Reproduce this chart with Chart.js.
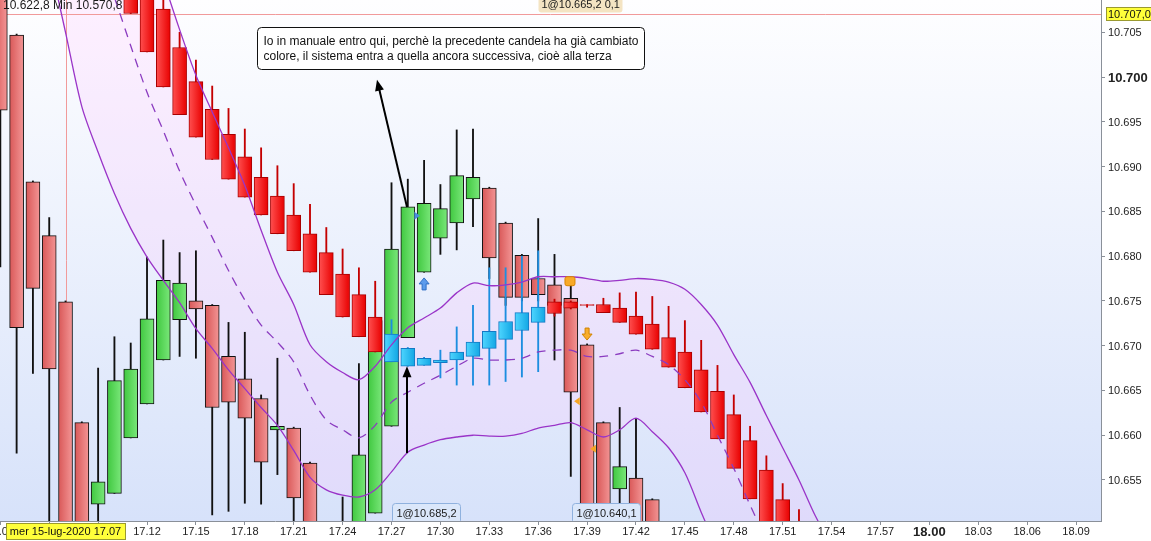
<!DOCTYPE html>
<html>
<head>
<meta charset="utf-8">
<script src="https://cdn.jsdelivr.net/npm/chart.js@4.4.0/dist/chart.umd.min.js"></script>
<style>
    body { margin: 0; background: #fff; }
    canvas { display: block; }
</style>
</head>
<body>
<canvas id="chart" width="1151" height="541"></canvas>
<script>
    // minute after 17:00 of the first bar of each series (1-minute bars)
    const PRICE_START = 3;
    const OVER_START = 11;
    const BAND_START = 3;

    // price candles 17.03 .. 17.43
    const priceOpen = [10.7130, 10.7047, 10.6883, 10.6823, 10.6749, 10.6614, 10.6523, 10.6535, 10.6597, 10.6635,
        10.6684, 10.6729, 10.6750, 10.6745, 10.6688, 10.6663, 10.6641, 10.6606, 10.6608, 10.6569,
        10.6490, 10.6470, 10.6480, 10.6513, 10.6610, 10.6709, 10.6782, 10.6820, 10.6837, 10.6864,
        10.6876, 10.6837, 10.6801, 10.6775, 10.6768, 10.6753, 10.6701, 10.6614, 10.6540, 10.6552, 10.6528];
    const priceHigh = [10.7150, 10.7048, 10.6884, 10.6843, 10.6750, 10.6615, 10.6675, 10.6710, 10.6703, 10.6799,
        10.6818, 10.6804, 10.6806, 10.6746, 10.6726, 10.6715, 10.6645, 10.6686, 10.6609, 10.6570,
        10.6495, 10.6531, 10.6680, 10.6730, 10.6882, 10.6886, 10.6907, 10.6880, 10.6941, 10.6942,
        10.6877, 10.6838, 10.6802, 10.6842, 10.6802, 10.6767, 10.6702, 10.6615, 10.6631, 10.6619, 10.6529];
    const priceLow = [10.6788, 10.6580, 10.6669, 10.6480, 10.6470, 10.6460, 10.6460, 10.6535, 10.6597, 10.6635,
        10.6684, 10.6688, 10.6686, 10.6511, 10.6515, 10.6524, 10.6523, 10.6556, 10.6470, 10.6460,
        10.6440, 10.6440, 10.6470, 10.6513, 10.6610, 10.6709, 10.6782, 10.6802, 10.6807, 10.6833,
        10.6775, 10.6745, 10.6750, 10.6750, 10.6684, 10.6554, 10.6460, 10.6450, 10.6470, 10.6440, 10.6430];
    const priceClose = [10.6963, 10.6720, 10.6764, 10.6674, 10.6480, 10.6470, 10.6548, 10.6661, 10.6674, 10.6730,
        10.6773, 10.6770, 10.6741, 10.6631, 10.6637, 10.6619, 10.6570, 10.6610, 10.6530, 10.6480,
        10.6460, 10.6480, 10.6578, 10.6728, 10.6808, 10.6855, 10.6859, 10.6853, 10.6890, 10.6888,
        10.6798, 10.6754, 10.6754, 10.6757, 10.6745, 10.6648, 10.6480, 10.6470, 10.6565, 10.6460, 10.6450];

    // coloured trend candles 17.11 .. 17.52
    const overOpen = [10.7140, 10.7110, 10.7076, 10.7033, 10.6995, 10.6964, 10.6936, 10.6911, 10.6888, 10.6867,
        10.6846, 10.6825, 10.6804, 10.6780, 10.6757, 10.6732, 10.6682, 10.6677, 10.6678, 10.6681,
        10.6684, 10.6688, 10.6697, 10.6707, 10.6717, 10.6726, 10.6749, 10.6749, 10.6746, 10.6746,
        10.6742, 10.6733, 10.6724, 10.6709, 10.6693, 10.6673, 10.6649, 10.6623, 10.6594, 10.6561, 10.6528, 10.6500];
    const overHigh = [10.7160, 10.7130, 10.7095, 10.7050, 10.7019, 10.6990, 10.6965, 10.6942, 10.6921, 10.6901,
        10.6881, 10.6858, 10.6832, 10.6808, 10.6787, 10.6772, 10.6729, 10.6698, 10.6687, 10.6695,
        10.6721, 10.6745, 10.6787, 10.6787, 10.6800, 10.6806, 10.6752, 10.6750, 10.6746, 10.6753,
        10.6759, 10.6760, 10.6755, 10.6744, 10.6728, 10.6706, 10.6678, 10.6645, 10.6610, 10.6577, 10.6546, 10.6517];
    const overLow = [10.7071, 10.7028, 10.6989, 10.6958, 10.6933, 10.6908, 10.6886, 10.6866, 10.6846, 10.6825,
        10.6806, 10.6782, 10.6757, 10.6732, 10.6710, 10.6693, 10.6682, 10.6677, 10.6678, 10.6664,
        10.6656, 10.6656, 10.6656, 10.6660, 10.6665, 10.6671, 10.6733, 10.6741, 10.6743, 10.6737,
        10.6726, 10.6713, 10.6696, 10.6676, 10.6653, 10.6626, 10.6596, 10.6563, 10.6529, 10.6480, 10.6460, 10.6440];
    const overClose = [10.7071, 10.7028, 10.6989, 10.6958, 10.6933, 10.6908, 10.6886, 10.6866, 10.6846, 10.6825,
        10.6806, 10.6782, 10.6757, 10.6732, 10.6710, 10.6693, 10.6713, 10.6697, 10.6686, 10.6684,
        10.6693, 10.6704, 10.6716, 10.6727, 10.6737, 10.6743, 10.6736, 10.6742, 10.6745, 10.6737,
        10.6726, 10.6713, 10.6696, 10.6676, 10.6653, 10.6626, 10.6596, 10.6563, 10.6529, 10.6480, 10.6460, 10.6440];

    // bands 17.03 .. 17.54
    const bandUpper = [10.773, 10.768, 10.763, 10.757, 10.751, 10.744, 10.737, 10.7298, 10.7231, 10.7164,
        10.7108, 10.7053, 10.7002, 10.6961, 10.6921, 10.6879, 10.6829, 10.6782, 10.6746, 10.6701,
        10.6682, 10.6670, 10.6662, 10.6677, 10.6701, 10.6720, 10.6731, 10.6742, 10.6759, 10.6770,
        10.6767, 10.6768, 10.6771, 10.6777, 10.6777, 10.6777, 10.6775, 10.6772, 10.6773, 10.6775,
        10.6774, 10.6771, 10.6763, 10.6746, 10.6723, 10.6690, 10.6659, 10.6622, 10.6586, 10.6550, 10.6510, 10.6477];
    const bandMiddle = [10.746, 10.741, 10.736, 10.730, 10.7248, 10.7192, 10.7139, 10.7089, 10.7035, 10.6983,
        10.6940, 10.6895, 10.6857, 10.6821, 10.6784, 10.6751, 10.6723, 10.6704, 10.6682, 10.6645,
        10.6617, 10.6606, 10.6597, 10.6611, 10.6637, 10.6648, 10.6658, 10.6667, 10.6677, 10.6686,
        10.6684, 10.6684, 10.6686, 10.6693, 10.6695, 10.6695, 10.6688, 10.6688, 10.6691, 10.6695,
        10.6688, 10.6679, 10.6662, 10.6637, 10.6600, 10.6563, 10.6522, 10.6483, 10.6445, 10.641, 10.638, 10.635];
    const bandLower = [10.7416, 10.7321, 10.7226, 10.7133, 10.7050, 10.6967, 10.6916, 10.6870, 10.6831, 10.6799,
        10.6773, 10.6748, 10.6719, 10.6697, 10.6673, 10.6652, 10.6631, 10.6611, 10.6583, 10.6553,
        10.6539, 10.6533, 10.6531, 10.6539, 10.6559, 10.6581, 10.6589, 10.6595, 10.6598, 10.6600,
        10.6599, 10.6599, 10.6602, 10.6608, 10.6611, 10.6614, 10.6606, 10.6598, 10.6606, 10.6619,
        10.6604, 10.6586, 10.6558, 10.6514, 10.6472, 10.643, 10.639, 10.635, 10.632, 10.629, 10.627, 10.625];

    // cursor, notes and signals (minute, price)
    const crossMinute = 7;
    const crossPrice = 10.707;
    const noteAnchor = [18.74, 10.7056];
    const noteLines = [
        'Io in manuale entro qui, perchè la precedente candela ha già cambiato',
        'colore, il sistema entra a quella ancora successiva, cioè alla terza'
    ];
    const noteArrows = [[27.95, 10.6855, 26.11, 10.6997], [27.95, 10.6580, 27.95, 10.6677]];
    const buyArrows = [[29, 10.6769]];
    const sellArrows = [[39, 10.6713]];
    const entryMarks = [[28.5, 10.6845]];
    const exitMarks = [[38.45, 10.6638], [39.44, 10.6585]];
    const stopMarks = [[37.95, 10.6772]];
    const bottomTags = [['1@10.685,2', 27.05], ['1@10.640,1', 38.05]];
    const topTags = [['1@10.665,2 0,1', 36.0]];
    const headerText = '10.622,8 Min 10.570,8';
    const cursorDate = 'mer 15-lug-2020 17.07';
    const cursorPriceText = '10.707,0';

    const FONT = '"Liberation Sans", Arial, sans-serif';
    const SALMON = ['#d95858', '#f39595'];
    const GREEN = ['#40c840', '#7ae77a'];
    const RED = ['#ff5050', '#e80000'];
    const CYAN = ['#4fd6ff', '#12a6e4'];

    const fmtMinute = m => (17 + Math.floor(m / 60)) + '.' + String(m % 60).padStart(2, '0');

    function hGrad(chart, minute, cols) {
        const xs = chart.scales.x;
        const p = xs ? xs.getPixelForValue(minute) : NaN;
        if (!isFinite(p)) return cols[1];
        const g = chart.ctx.createLinearGradient(p - 7, 0, p + 7, 0);
        g.addColorStop(0, cols[0]);
        g.addColorStop(1, cols[1]);
        return g;
    }

    const bodies = (start, o, c) => o.map((v, i) => ({x: start + i, y: [v, c[i]]}));
    const wicks = (start, l, h) => l.map((v, i) => ({x: start + i, y: [v, h[i]]}));
    const band = arr => arr.map((v, i) => ({x: BAND_START + i, y: v}));

    function drawArrow(ctx, x1, y1, x2, y2) {
        const a = Math.atan2(y2 - y1, x2 - x1);
        const len = 11, w = 4.5;
        ctx.lineWidth = 2;
        ctx.beginPath();
        ctx.moveTo(x1, y1);
        ctx.lineTo(x2 - Math.cos(a) * len * 0.7, y2 - Math.sin(a) * len * 0.7);
        ctx.stroke();
        ctx.beginPath();
        ctx.moveTo(x2, y2);
        ctx.lineTo(x2 - len * Math.cos(a) + w * Math.sin(a), y2 - len * Math.sin(a) - w * Math.cos(a));
        ctx.lineTo(x2 - len * Math.cos(a) - w * Math.sin(a), y2 - len * Math.sin(a) + w * Math.cos(a));
        ctx.closePath();
        ctx.fill();
    }

    function blockArrow(ctx, x, y, dir, fill, stroke) {
        // dir -1 points up, 1 points down; y is the centre
        const tip = y + dir * 6, base = y - dir * 6, neck = tip - dir * 6;
        ctx.beginPath();
        ctx.moveTo(x, tip);
        ctx.lineTo(x + 5, neck);
        ctx.lineTo(x + 2, neck);
        ctx.lineTo(x + 2, base);
        ctx.lineTo(x - 2, base);
        ctx.lineTo(x - 2, neck);
        ctx.lineTo(x - 5, neck);
        ctx.closePath();
        ctx.fillStyle = fill;
        ctx.fill();
        ctx.strokeStyle = stroke;
        ctx.lineWidth = 1;
        ctx.stroke();
    }

    function tri(ctx, x, y, dir, size, fill) {
        ctx.beginPath();
        ctx.moveTo(x + dir * size, y);
        ctx.lineTo(x - dir * size * 0.4, y - size);
        ctx.lineTo(x - dir * size * 0.4, y + size);
        ctx.closePath();
        ctx.fillStyle = fill;
        ctx.fill();
    }

    function tag(ctx, left, top, h, text, bg, border, pad) {
        const w = ctx.measureText(text).width + pad * 2;
        ctx.beginPath();
        ctx.roundRect(Math.round(left) + 0.5, top + 0.5, Math.round(w), h, 3);
        ctx.fillStyle = bg;
        ctx.fill();
        if (border) {
            ctx.strokeStyle = border;
            ctx.lineWidth = 1;
            ctx.stroke();
        }
        ctx.fillStyle = '#1a1a1a';
        ctx.textAlign = 'left';
        ctx.textBaseline = 'middle';
        ctx.fillText(text, Math.round(left) + pad + 0.5, top + h / 2 + 1);
    }

    const decor = {
        id: 'decor',
        beforeDraw(chart) {
            const {ctx, chartArea: a} = chart;
            ctx.save();
            ctx.fillStyle = '#fff';
            ctx.fillRect(0, 0, chart.width, chart.height);
            const g = ctx.createLinearGradient(0, a.top, 0, a.bottom);
            g.addColorStop(0, '#fefeff');
            g.addColorStop(1, '#d7e2fa');
            ctx.fillStyle = g;
            ctx.fillRect(a.left, a.top, a.right - a.left, a.bottom - a.top);
            ctx.restore();
        },
        beforeDatasetsDraw(chart) {
            const {ctx, chartArea: a, scales: {x, y}} = chart;
            const cx = Math.round(x.getPixelForValue(crossMinute)) + 0.5;
            const cy = Math.round(y.getPixelForValue(crossPrice)) + 0.5;
            ctx.save();
            ctx.strokeStyle = '#f19a9a';
            ctx.lineWidth = 1;
            ctx.beginPath();
            ctx.moveTo(a.left, cy);
            ctx.lineTo(a.right, cy);
            ctx.moveTo(cx, a.top);
            ctx.lineTo(cx, a.bottom);
            ctx.stroke();
            ctx.restore();
        },
        afterDatasetsDraw(chart) {
            const {ctx, chartArea: a, scales: {x, y}} = chart;
            const X = v => x.getPixelForValue(v);
            const Y = v => y.getPixelForValue(v);
            ctx.save();
            ctx.beginPath();
            ctx.rect(a.left, a.top, a.right - a.left, a.bottom - a.top);
            ctx.clip();

            stopMarks.forEach(([m, p]) => {
                ctx.beginPath();
                ctx.roundRect(X(m) - 5, Y(p) - 4.5, 10, 9, 2);
                ctx.fillStyle = '#f8a928';
                ctx.fill();
                ctx.strokeStyle = '#d98400';
                ctx.stroke();
            });
            exitMarks.forEach(([m, p]) => tri(ctx, X(m), Y(p), -1, 4, '#f5a623'));
            entryMarks.forEach(([m, p]) => tri(ctx, X(m), Y(p), 1, 4, '#4a8fe0'));
            buyArrows.forEach(([m, p]) => blockArrow(ctx, X(m), Y(p), -1, '#5d9cec', '#2f6fc4'));
            sellArrows.forEach(([m, p]) => blockArrow(ctx, X(m), Y(p), 1, '#f9ad2c', '#cf8200'));

            ctx.strokeStyle = '#000';
            ctx.fillStyle = '#000';
            noteArrows.forEach(([m1, p1, m2, p2]) => drawArrow(ctx, X(m1), Y(p1), X(m2), Y(p2)));

            // note box
            ctx.font = '12px ' + FONT;
            const nx = Math.round(X(noteAnchor[0])) + 0.5;
            const ny = Math.round(Y(noteAnchor[1])) + 0.5;
            const nw = Math.max(...noteLines.map(t => ctx.measureText(t).width)) + 12;
            ctx.beginPath();
            ctx.roundRect(nx, ny, Math.round(nw), 42, 4);
            ctx.fillStyle = '#fff';
            ctx.fill();
            ctx.strokeStyle = '#111';
            ctx.lineWidth = 1;
            ctx.stroke();
            ctx.fillStyle = '#111';
            ctx.textAlign = 'left';
            ctx.textBaseline = 'middle';
            noteLines.forEach((t, i) => ctx.fillText(t, nx + 6, ny + 14 + i * 15));

            // trade tags
            ctx.font = '11px ' + FONT;
            bottomTags.forEach(([t, m]) => tag(ctx, X(m), a.bottom - 18, 20, t, '#dbe7fa', '#8fb1de', 4));
            topTags.forEach(([t, m]) => tag(ctx, X(m), a.top - 4, 16, t, '#f4e4c3', null, 3));

            ctx.font = '12px ' + FONT;
            ctx.fillStyle = '#1a1a1a';
            ctx.textAlign = 'left';
            ctx.textBaseline = 'middle';
            ctx.fillText(headerText, a.left + 3, a.top + 6);
            ctx.restore();
        },
        afterDraw(chart) {
            const {ctx, chartArea: a, scales: {x, y}} = chart;
            ctx.save();
            ctx.fillStyle = '#222';
            ctx.textBaseline = 'middle';
            ctx.textAlign = 'center';
            x.ticks.forEach(t => {
                const bold = t.value === 60;
                ctx.font = (bold ? 'bold 13px ' : '11px ') + FONT;
                ctx.fillText(fmtMinute(t.value), x.getPixelForValue(t.value), a.bottom + 11);
            });
            ctx.textAlign = 'left';
            y.ticks.forEach(t => {
                const bold = Math.abs(t.value - 10.7) < 1e-6;
                ctx.font = (bold ? 'bold 13px ' : '11px ') + FONT;
                ctx.fillText(t.value.toFixed(3), a.right + 7, y.getPixelForValue(t.value) + 1);
            });

            // cursor labels
            ctx.font = '11px ' + FONT;
            const cx = x.getPixelForValue(crossMinute);
            const dw = ctx.measureText(cursorDate).width + 8;
            ctx.fillStyle = '#ffff3a';
            ctx.strokeStyle = '#9a9a30';
            ctx.lineWidth = 1;
            ctx.fillRect(Math.round(cx - dw / 2), a.bottom + 2, Math.round(dw), 17);
            ctx.strokeRect(Math.round(cx - dw / 2) + 0.5, a.bottom + 2.5, Math.round(dw), 16);
            ctx.fillStyle = '#111';
            ctx.textAlign = 'center';
            ctx.fillText(cursorDate, cx, a.bottom + 11);

            const cy = Math.round(y.getPixelForValue(crossPrice));
            ctx.fillStyle = '#ffff3a';
            ctx.fillRect(a.right + 5, cy - 7, chart.width - a.right - 5, 14);
            ctx.strokeRect(a.right + 5.5, cy - 6.5, chart.width - a.right - 5, 13);
            ctx.fillStyle = '#111';
            ctx.textAlign = 'left';
            ctx.fillText(cursorPriceText, a.right + 7, cy + 1);
            ctx.restore();
        }
    };

    const priceColor = c => {
        if (c.type !== 'data') return SALMON[1];
        const i = c.dataIndex;
        return hGrad(c.chart, PRICE_START + i, priceClose[i] > priceOpen[i] ? GREEN : SALMON);
    };
    const overUp = i => overClose[i] > overOpen[i];
    const overColor = c => {
        if (c.type !== 'data') return RED[1];
        const i = c.dataIndex;
        return hGrad(c.chart, OVER_START + i, overUp(i) ? CYAN : RED);
    };

    new Chart(document.getElementById('chart'), {
        type: 'bar',
        data: {
            datasets: [
                {
                    type: 'line', label: 'upper', data: band(bandUpper), order: 0,
                    borderColor: '#9a34c8', borderWidth: 1.3, pointRadius: 0, tension: 0.3,
                    fill: '+2', backgroundColor: 'rgba(255,190,255,0.22)'
                },
                {
                    type: 'line', label: 'middle', data: band(bandMiddle), order: 0,
                    borderColor: '#8b3cc0', borderWidth: 1.3, borderDash: [9, 7], pointRadius: 0, tension: 0.3,
                    fill: false
                },
                {
                    type: 'line', label: 'lower', data: band(bandLower), order: 0,
                    borderColor: '#9a34c8', borderWidth: 1.3, pointRadius: 0, tension: 0.3,
                    fill: false
                },
                {
                    label: 'trend', data: bodies(OVER_START, overOpen, overClose), order: 1, grouped: false,
                    barThickness: 14, borderWidth: 1, borderSkipped: false,
                    backgroundColor: overColor,
                    borderColor: c => overUp(c.dataIndex) ? '#1479c4' : '#a80000'
                },
                {
                    label: 'trend wicks', data: wicks(OVER_START, overLow, overHigh), order: 2, grouped: false,
                    barThickness: 1.2, borderWidth: 0,
                    backgroundColor: c => overUp(c.dataIndex) ? '#1c8ee0' : '#c40000'
                },
                {
                    label: 'price', data: bodies(PRICE_START, priceOpen, priceClose), order: 3, grouped: false,
                    barThickness: 14, borderWidth: 1, borderSkipped: false,
                    backgroundColor: priceColor, borderColor: '#111'
                },
                {
                    label: 'price wicks', data: wicks(PRICE_START, priceLow, priceHigh), order: 4, grouped: false,
                    barThickness: 1.2, borderWidth: 0, backgroundColor: '#111'
                }
            ]
        },
        options: {
            responsive: false,
            animation: false,
            devicePixelRatio: 1,
            events: [],
            layout: { padding: 0 },
            plugins: {
                legend: { display: false },
                tooltip: { enabled: false },
                filler: { drawTime: 'beforeDatasetsDraw' }
            },
            scales: {
                x: {
                    type: 'linear', min: 2.98, max: 70.53, offset: false,
                    ticks: { display: false, stepSize: 3, includeBounds: false },
                    grid: { offset: false, drawOnChartArea: false, drawTicks: true, tickLength: 4, color: '#8a9099' },
                    border: { color: '#8a9099' },
                    afterFit: s => { s.height = 20; }
                },
                y: {
                    type: 'linear', position: 'right', min: 10.65042, max: 10.70861, beginAtZero: false,
                    ticks: { display: false, stepSize: 0.005, includeBounds: false },
                    grid: { drawOnChartArea: false, drawTicks: true, tickLength: 4, color: '#8a9099' },
                    border: { color: '#8a9099' },
                    afterFit: s => { s.width = 50; }
                }
            }
        },
        plugins: [decor]
    });
</script>
</body>
</html>
